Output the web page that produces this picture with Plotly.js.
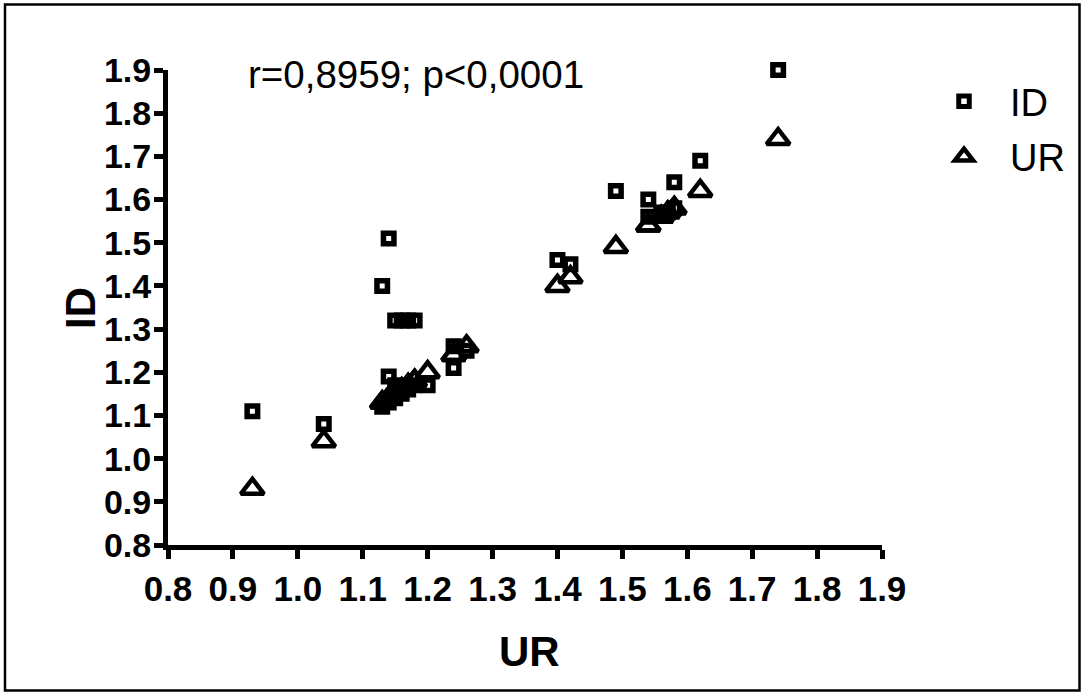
<!DOCTYPE html>
<html>
<head>
<meta charset="utf-8">
<script src="https://cdn.plot.ly/plotly-3.0.1.min.js"></script>
<style>
  html, body { margin: 0; padding: 0; background: #fff; }
  #chart { width: 1084px; height: 695px; }
</style>
</head>
<body>
<div id="chart"></div>
<script>
// UR values (x) for each subject
const urValues = [0.93, 1.04, 1.13, 1.13, 1.14, 1.14, 1.14, 1.15, 1.15, 1.15, 1.16, 1.16, 1.17, 1.17, 1.18, 1.18,
                  1.20, 1.24, 1.24, 1.26, 1.40, 1.42, 1.49, 1.54, 1.54, 1.56, 1.57, 1.58, 1.58, 1.62, 1.74];
// ID values for each subject
const idValues = [1.11, 1.08, 1.40, 1.12, 1.51, 1.19, 1.13, 1.32, 1.14, 1.17, 1.32, 1.15, 1.32, 1.16, 1.32, 1.17,
                  1.17, 1.26, 1.21, 1.25, 1.46, 1.45, 1.62, 1.60, 1.56, 1.57, 1.57, 1.64, 1.58, 1.69, 1.90];
// Triangles: UR plotted against itself
const urSelf = urValues.slice();

const tickVals = [0.8, 0.9, 1.0, 1.1, 1.2, 1.3, 1.4, 1.5, 1.6, 1.7, 1.8, 1.9];
const tickText = ["0.8", "0.9", "1.0", "1.1", "1.2", "1.3", "1.4", "1.5", "1.6", "1.7", "1.8", "1.9"];
const seriesNames = ["ID", "UR"];
const axisTitles = { x: "UR", y: "ID" };
const statText = "r=0,8959; p<0,0001";

const FONT = "Liberation Sans, Arial, Helvetica, sans-serif";

const traces = [
  {
    x: urValues, y: idValues, name: seriesNames[0], type: "scatter", mode: "markers",
    legendgroup: "a",
    marker: { symbol: "square-open", size: 10.5, color: "#000", line: { width: 5.5, color: "#000" } },
    cliponaxis: false
  },
  {
    x: urValues, y: urSelf, name: seriesNames[1], type: "scatter", mode: "markers",
    legendgroup: "b",
    marker: { symbol: "triangle-up-open", size: 20, color: "#000", line: { width: 4.5, color: "#000" } },
    cliponaxis: false
  }
];

const axisCommon = {
  range: [0.8, 1.9],
  tickmode: "array",
  tickvals: tickVals,
  ticktext: tickText,
  showline: true,
  linewidth: 5,
  linecolor: "#000",
  ticks: "outside",
  ticklen: 9,
  tickwidth: 5,
  tickcolor: "#000",
  showgrid: false,
  zeroline: false
};

const W = 1084, H = 695;
const m = { l: 168, r: 202, t: 70, b: 150 };
const pw = W - m.l - m.r, ph = H - m.t - m.b;
const px = v => (v - m.l) / pw;
const py = v => (H - m.b - v) / ph;

const titleFont = { family: FONT, size: 42, color: "#000", weight: "bold" };

const layout = {
  width: W, height: H,
  margin: m,
  paper_bgcolor: "#fff",
  plot_bgcolor: "#fff",
  showlegend: true,
  legend: {
    x: px(918), y: py(70), xanchor: "left", yanchor: "top",
    font: { family: FONT, size: 38, color: "#000" },
    itemwidth: 82,
    traceorder: "grouped",
    tracegroupgap: 3,
    bgcolor: "rgba(0,0,0,0)"
  },
  xaxis: Object.assign({}, axisCommon, {
    tickfont: { family: FONT, size: 35, color: "#000", weight: "bold" }
  }),
  yaxis: Object.assign({}, axisCommon, {
    tickfont: { family: FONT, size: 34, color: "#000", weight: "bold" },
    ticklabelstandoff: -4
  }),
  annotations: [
    {
      xref: "x", yref: "y", x: 0.92, y: 1.89, xanchor: "left", yanchor: "middle",
      text: statText, showarrow: false,
      font: { family: FONT, size: 38.5, color: "#000" }
    },
    {
      xref: "paper", yref: "paper", x: px(529), y: py(651), xanchor: "center", yanchor: "middle",
      text: axisTitles.x, showarrow: false, font: titleFont
    },
    {
      xref: "paper", yref: "paper", x: px(80), y: py(308), xanchor: "center", yanchor: "middle",
      text: axisTitles.y, showarrow: false, textangle: -90, font: titleFont
    }
  ],
  shapes: [
    {
      type: "rect", xref: "paper", yref: "paper",
      x0: px(5), x1: px(1079.5), y0: py(690.5), y1: py(4.5),
      line: { color: "#000", width: 2.5 }, fillcolor: "rgba(0,0,0,0)"
    }
  ]
};

Plotly.newPlot("chart", traces, layout, { displayModeBar: false, staticPlot: true });
</script>
</body>
</html>
